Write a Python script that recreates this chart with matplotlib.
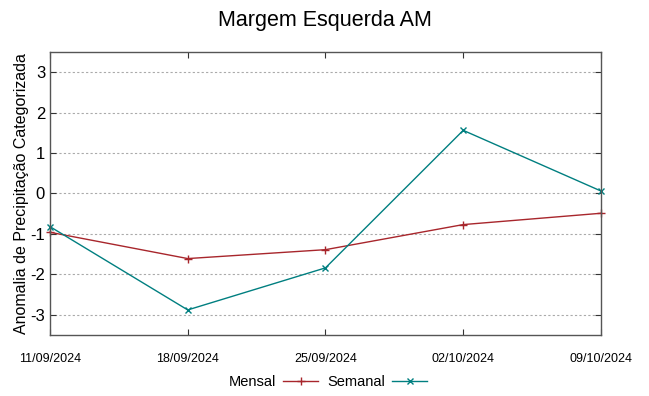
import matplotlib
matplotlib.use("Agg")
import matplotlib.pyplot as plt

plt.rcParams["font.family"] = ["Liberation Sans", "DejaVu Sans"]
plt.rcParams["axes.unicode_minus"] = False

dates = ["11/09/2024", "18/09/2024", "25/09/2024", "02/10/2024", "09/10/2024"]
mensal = [-0.96, -1.61, -1.39, -0.77, -0.49]
semanal = [-0.82, -2.88, -1.84, 1.56, 0.06]

RED = "#a8262c"
TEAL = "#007f80"

fig = plt.figure(figsize=(6.49, 3.96), dpi=100)
ax = fig.add_axes([0.077, 0.154, 0.849, 0.715])

x = list(range(len(dates)))
ax.plot(x, mensal, color=RED, lw=1.0, marker="+", ms=6, mew=1.0, label="Mensal", clip_on=False)
ax.plot(x, semanal, color=TEAL, lw=1.0, marker="x", ms=5, mew=1.0, label="Semanal", clip_on=False)

ax.set_xlim(0, len(dates) - 1)
ax.set_ylim(-3.5, 3.5)
ax.set_xticks(x)
ax.set_xticklabels(dates, fontsize=9)
ax.set_yticks([-3, -2, -1, 0, 1, 2, 3])
ax.tick_params(axis="y", labelsize=12, direction="in", right=True, length=4, color="#333333")
ax.tick_params(axis="x", direction="in", top=True, length=4, pad=13, color="#333333")
ax.yaxis.grid(True, ls=(0, (2, 2)), color="#aaaaaa", lw=0.8)
ax.set_axisbelow(True)
for s in ax.spines.values():
    s.set_color("#555555")
    s.set_linewidth(1.0)

ax.set_ylabel("Anomalia de Precipitação Categorizada", fontsize=11.5, labelpad=1)
fig.suptitle("Margem Esquerda AM", fontsize=15.5, y=0.975, va="top")

fig.legend(loc="center", bbox_to_anchor=(0.505, 0.036), ncol=2, frameon=False,
           markerfirst=False, fontsize=10.5, handlelength=2.4, columnspacing=0.6, handletextpad=0.5)

fig.savefig("out.png", dpi=100)
